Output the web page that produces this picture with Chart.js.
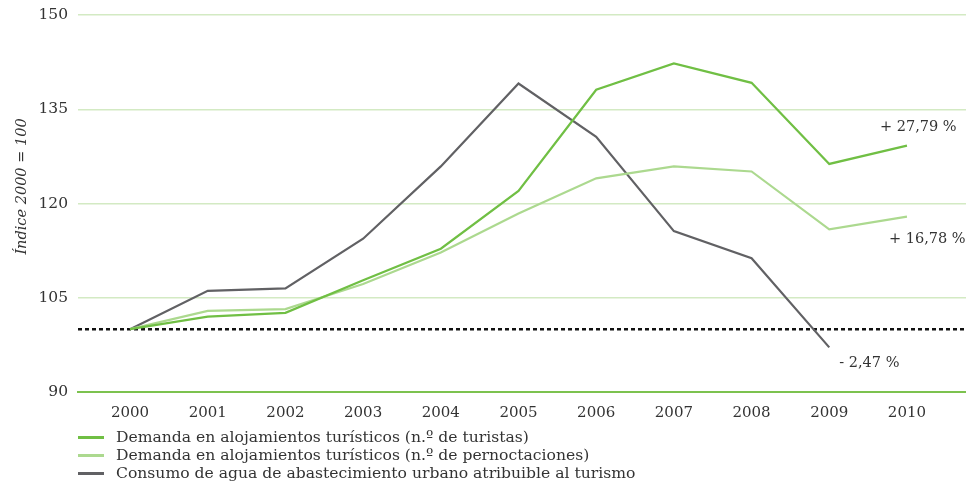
<!DOCTYPE html>
<html>
<head>
<meta charset="utf-8">
<script src="https://cdn.jsdelivr.net/npm/chart.js@4.4.0/dist/chart.umd.min.js"></script>
<style>
  body { margin: 0; background: #fff; }
  #wrap { position: relative; width: 966px; height: 485px; }
  #box { position: absolute; left: 0; top: 0; width: 966px; height: 434px; }
  #legend { position: absolute; left: 78px; top: 428px; font-family: "DejaVu Serif", serif; font-size: 15.6px; color: #333; }
  .row { height: 18px; line-height: 18px; display: flex; align-items: center; white-space: nowrap; }
  .mark { display: inline-block; width: 26px; height: 3px; margin-right: 12px; }
</style>
</head>
<body>
<div id="wrap">
  <div id="box"><canvas id="chart"></canvas></div>
  <div id="legend"></div>
</div>
<script>
// data
const years = [2000, 2001, 2002, 2003, 2004, 2005, 2006, 2007, 2008, 2009, 2010];
const turistas = [100, 102.0, 102.6, 107.8, 112.8, 122.0, 138.1, 142.3, 139.2, 126.3, 129.2];
const pernoctaciones = [100, 102.9, 103.2, 107.2, 112.2, 118.4, 124.0, 125.9, 125.1, 115.9, 117.9];
const agua = [100, 106.1, 106.5, 114.4, 125.9, 139.1, 130.6, 115.6, 111.3, 97.1];
const seriesNames = [
    'Demanda en alojamientos turísticos (n.º de turistas)',
    'Demanda en alojamientos turísticos (n.º de pernoctaciones)',
    'Consumo de agua de abastecimiento urbano atribuible al turismo'
];
const endLabels = ['+ 27,79 %', '+ 16,78 %', '- 2,47 %'];
const yTicks = [90, 105, 120, 135, 150];
const yTitle = 'Índice 2000 = 100';
const baseline = 100;

const colors = ['#70bf44', '#acd98f', '#616164'];
const txt = '#333333';
const font = 'DejaVu Serif';

function pts(vals) {
    return vals.map((v, i) => ({x: years[i], y: v}));
}

// dotted line at 100, labels next to the last points, y title
const extras = {
    id: 'extras',
    beforeDatasetsDraw(chart) {
        const {ctx, chartArea, scales} = chart;
        const y = scales.y.getPixelForValue(baseline);
        ctx.save();
        ctx.strokeStyle = '#111';
        ctx.lineWidth = 2.5;
        ctx.setLineDash([4, 3]);
        ctx.beginPath();
        ctx.moveTo(chartArea.left, y);
        ctx.lineTo(chartArea.right, y);
        ctx.stroke();
        ctx.restore();
    },
    afterDatasetsDraw(chart) {
        const {ctx, chartArea} = chart;
        const offs = [[-27, -18], [-18, 23], [10, 16]];
        ctx.save();
        ctx.font = '14.5px "' + font + '"';
        ctx.fillStyle = txt;
        ctx.textAlign = 'left';
        ctx.textBaseline = 'middle';
        chart.data.datasets.forEach((ds, i) => {
            const meta = chart.getDatasetMeta(i);
            const last = meta.data[meta.data.length - 1];
            ctx.fillText(endLabels[i], last.x + offs[i][0], last.y + offs[i][1]);
        });
        // y axis title, a bit above the middle like the original
        ctx.translate(22, (chartArea.top + chartArea.bottom) / 2 - 17);
        ctx.rotate(-Math.PI / 2);
        ctx.textAlign = 'center';
        ctx.font = 'italic 14.5px "' + font + '"';
        ctx.fillText(yTitle, 0, 0);
        ctx.restore();
    }
};

const ctx = document.querySelector('#chart').getContext('2d');
const chart = new Chart(ctx, {
    type: 'line',
    data: {
        datasets: [{
            label: seriesNames[0],
            data: pts(turistas),
            borderColor: colors[0],
        },
            {
                label: seriesNames[1],
                data: pts(pernoctaciones),
                borderColor: colors[1],
            },
            {
                label: seriesNames[2],
                data: pts(agua),
                borderColor: colors[2],
            }
        ]
    },
    options: {
        responsive: true,
        maintainAspectRatio: false,
        animation: false,
        layout: {
            padding: {top: 15, right: 0, left: 0, bottom: 0}
        },
        elements: {
            point: {radius: 0},
            line: {borderWidth: 2.2, tension: 0}
        },
        plugins: {
            legend: {display: false},
            tooltip: {enabled: false}
        },
        scales: {
            x: {
                type: 'linear',
                min: 1999.33,
                max: 2010.76,
                afterBuildTicks: (axis) => {
                    axis.ticks = years.map(v => ({value: v}));
                },
                grid: {display: false, drawTicks: false},
                border: {display: true, color: '#7cc24f', width: 2},
                ticks: {
                    color: txt,
                    padding: 12,
                    font: {family: font, size: 15},
                    callback: (v) => String(v)
                }
            },
            y: {
                min: 90,
                max: 150,
                afterBuildTicks: (axis) => {
                    axis.ticks = yTicks.map(v => ({value: v}));
                },
                afterFit: (axis) => {
                    axis.width = 78;
                    axis.paddingTop = 0;
                },
                grid: {color: '#d3eac3', lineWidth: 1.5, drawTicks: false},
                border: {display: false},
                ticks: {
                    color: txt,
                    padding: 10,
                    font: {family: font, size: 15.5}
                }
            }
        }
    },
    plugins: [extras]
});

// legend, one series per row
const legend = document.querySelector('#legend');
seriesNames.forEach((name, i) => {
    const row = document.createElement('div');
    row.className = 'row';
    const mark = document.createElement('span');
    mark.className = 'mark';
    mark.style.background = colors[i];
    row.appendChild(mark);
    row.appendChild(document.createTextNode(name));
    legend.appendChild(row);
});
</script>
</body>
</html>
